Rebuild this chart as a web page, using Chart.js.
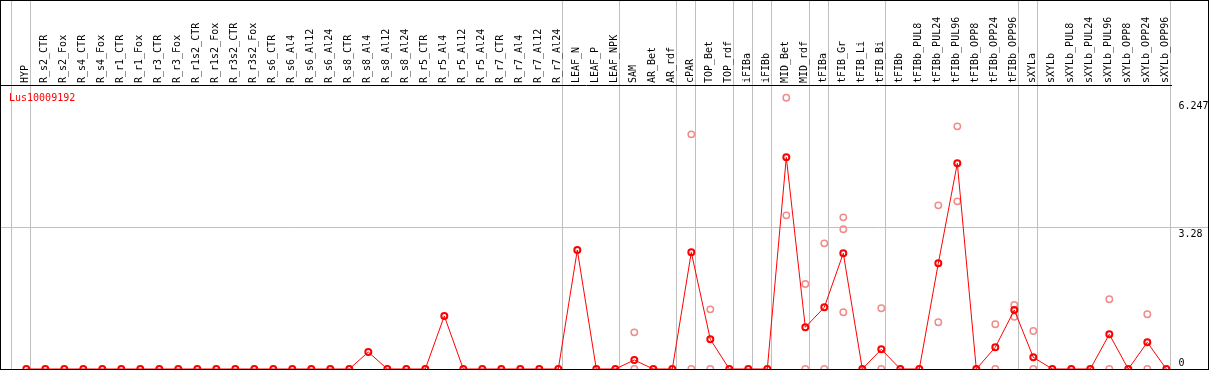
<!DOCTYPE html>
<html><head><meta charset="utf-8">
<script src="https://cdn.jsdelivr.net/npm/chart.js@4"></script>
<style>
html,body{margin:0;padding:0;background:#fff;}
#wrap{position:relative;width:1209px;height:370px;box-sizing:border-box;border:1px solid #000;overflow:hidden;}
#wrap canvas{display:block;}
#ttl{position:absolute;left:8px;top:91px;font:10px 'DejaVu Sans Mono',monospace;line-height:12px;color:#f00;white-space:nowrap;}
</style></head>
<body>
<div id="wrap"><canvas id="c" width="1207" height="368"></canvas><div id="ttl">Lus10009192</div></div>
<script>
// ---- data ----
const geneName = 'Lus10009192';
const categories = ['HYP','R_s2_CTR','R_s2_Fox','R_s4_CTR','R_s4_Fox','R_r1_CTR','R_r1_Fox','R_r3_CTR','R_r3_Fox',
 'R_r1s2_CTR','R_r1s2_Fox','R_r3s2_CTR','R_r3s2_Fox','R_s6_CTR','R_s6_Al4','R_s6_Al12','R_s6_Al24',
 'R_s8_CTR','R_s8_Al4','R_s8_Al12','R_s8_Al24','R_r5_CTR','R_r5_Al4','R_r5_Al12','R_r5_Al24',
 'R_r7_CTR','R_r7_Al4','R_r7_Al12','R_r7_Al24','LEAF_N','LEAF_P','LEAF_NPK','SAM','AR_Bet','AR_rdf',
 'cPAR','TOP_Bet','TOP_rdf','iFIBa','iFIBb','MID_Bet','MID_rdf','tFIBa','tFIB_Gr','tFIB_Li','tFIB_Bi',
 'tFIBb','tFIBb_PUL8','tFIBb_PUL24','tFIBb_PUL96','tFIBb_OPP8','tFIBb_OPP24','tFIBb_OPP96',
 'sXYLa','sXYLb','sXYLb_PUL8','sXYLb_PUL24','sXYLb_PUL96','sXYLb_OPP8','sXYLb_OPP24','sXYLb_OPP96'];
const meanValues = [0,0,0,0,0,0,0,0,0,
 0,0,0,0,0,0,0,0,
 0,0.395,0,0,0,1.233,0,0,
 0,0,0,0,2.767,0,0,0.209,0,0,
 2.714,0.691,0,0,0,4.923,0.970,1.435,2.691,0,0.458,
 0,0,2.458,4.784,0,0.505,1.372,
 0.272,0,0,0,0.807,0,0.621,0];
const replicateCats = ['SAM','SAM','cPAR','cPAR','TOP_Bet','TOP_Bet','MID_Bet','MID_Bet','MID_rdf','MID_rdf',
 'tFIBa','tFIBa','tFIB_Gr','tFIB_Gr','tFIB_Gr','tFIB_Bi','tFIB_Bi','tFIBb_PUL24','tFIBb_PUL24',
 'tFIBb_PUL96','tFIBb_PUL96','tFIBb_OPP24','tFIBb_OPP24','tFIBb_OPP96','tFIBb_OPP96','sXYLa','sXYLa',
 'sXYLb_PUL96','sXYLb_PUL96','sXYLb_OPP24','sXYLb_OPP24'];
const replicateValues = [0.853,0,5.458,0,1.388,0,6.309,3.574,1.977,0,
 2.923,0,3.528,3.249,1.319,1.412,0,3.807,1.086,
 5.644,3.900,1.040,0,1.488,1.216,0.884,0,
 1.621,0,1.272,0];
const groupLastCats = ['HYP','R_r7_Al24','LEAF_NPK','AR_rdf','cPAR','TOP_rdf','iFIBa','iFIBb','MID_rdf',
 'tFIBa','tFIB_Bi','tFIBb_OPP96','sXYLa','sXYLb_OPP96'];
const yTickValues = [0, 3.28, 6.247];
const yTickLabels = ['0', '3.28', '6.247'];

// ---- chart ----
document.getElementById('ttl').textContent = geneName;
const X_MIN = -1.332, X_MAX = 60.247, Y_MAX = 6.606, SEP_OFF = 0.22;
const FONT = {family:"'DejaVu Sans Mono', monospace", size:10};
const sepValues = [-1].concat(groupLastCats.map(c => categories.indexOf(c))).map(v => v + SEP_OFF);

new Chart(document.getElementById('c'), {
  type: 'line',
  data: {
    datasets: [
      {
        label: 'replicates',
        data: replicateCats.map((c, k) => ({x: categories.indexOf(c), y: replicateValues[k]})),
        showLine: false,
        pointRadius: 3.2,
        pointBorderWidth: 1.5,
        pointBorderColor: '#f08c8c',
        pointBackgroundColor: 'rgba(0,0,0,0)',
        order: 2
      },
      {
        label: geneName,
        data: meanValues.map((v, i) => ({x: i, y: v})),
        borderColor: '#ff0000',
        borderWidth: 1,
        tension: 0,
        pointRadius: 3,
        pointBorderWidth: 2,
        pointBorderColor: '#ff0000',
        pointBackgroundColor: 'rgba(0,0,0,0)',
        order: 1
      }
    ]
  },
  options: {
    responsive: false,
    animation: false,
    events: [],
    layout: {padding: 0, autoPadding: false},
    plugins: {legend: {display: false}, tooltip: {enabled: false}, title: {display: false}},
    scales: {
      x: {
        type: 'linear', position: 'top', weight: 1, bounds: 'data',
        min: X_MIN, max: X_MAX,
        grid: {display: false, drawTicks: false},
        border: {display: false},
        ticks: {autoSkip: false, minRotation: 90, maxRotation: 90, padding: 2, labelOffset: 11, color: '#000', font: FONT,
          callback: (v) => categories[Math.round(v)]},
        afterBuildTicks: (s) => { s.ticks = categories.map((c, i) => ({value: i})); },
        afterFit: (s) => { s.height = 84; }
      },
      xg: {
        type: 'linear', position: 'top', weight: 0, bounds: 'data',
        min: X_MIN, max: X_MAX,
        grid: {display: true, color: '#c0c0c0', lineWidth: 1, drawTicks: true, tickLength: 84},
        border: {display: true, color: '#000', width: 1},
        ticks: {display: false},
        afterBuildTicks: (s) => { s.ticks = sepValues.map(v => ({value: v})); },
        afterFit: (s) => { s.height = 0; }
      },
      y: {
        type: 'linear', position: 'right', bounds: 'data',
        min: 0, max: Y_MAX,
        grid: {color: (ctx) => (ctx.tick && ctx.tick.value === 3.28) ? '#c0c0c0' : 'rgba(0,0,0,0)',
               lineWidth: 1, drawTicks: true, tickLength: 37},
        border: {display: false},
        ticks: {padding: -29.5, color: '#000', font: FONT, autoSkip: false,
          callback: (v, i) => i === 0 ? [yTickLabels[i], ''] : ['', yTickLabels[i]]},
        afterBuildTicks: (s) => { s.ticks = yTickValues.map(v => ({value: v})); },
        afterFit: (s) => { s.width = 37; }
      }
    }
  }
});
</script>
</body></html>
